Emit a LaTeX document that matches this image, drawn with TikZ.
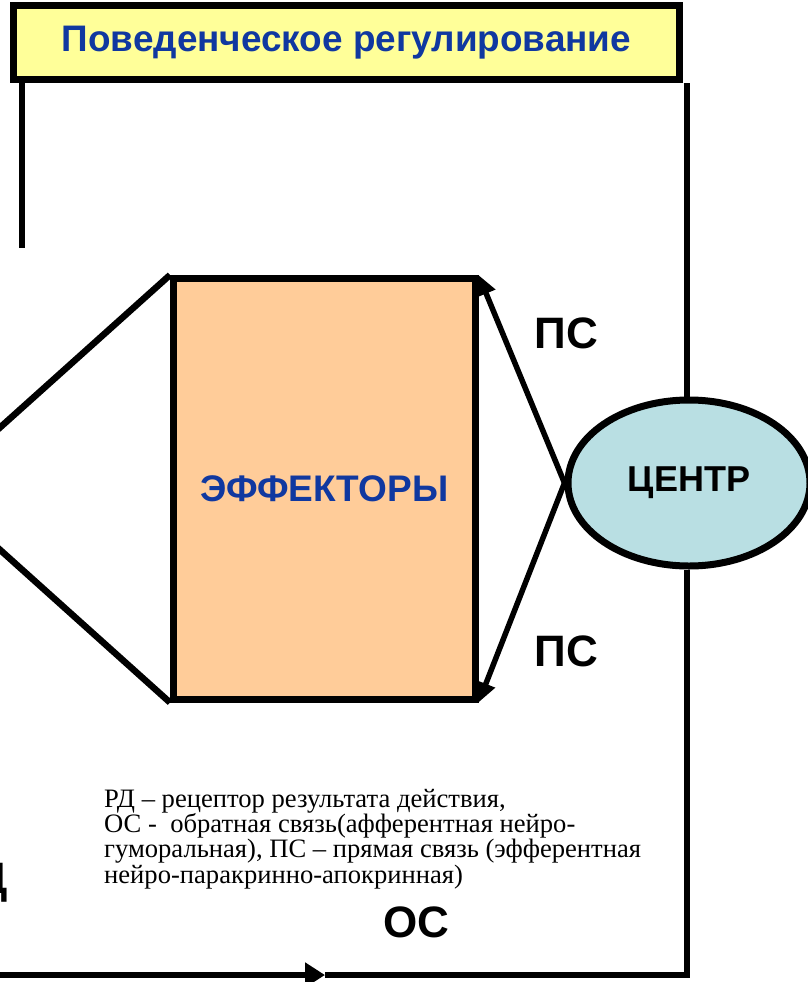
\documentclass[tikz,border=0pt]{standalone}
\usepackage{fontspec}
\setmainfont{Liberation Serif}
\newfontfamily\arialb[BoldFont=*]{Liberation Sans Bold}
\usetikzlibrary{shapes.geometric,arrows.meta}
\definecolor{titleblue}{RGB}{16,56,160}
\definecolor{bannerfill}{RGB}{255,255,153}
\definecolor{efffill}{RGB}{255,204,153}
\definecolor{centfill}{RGB}{185,223,227}
\tikzset{
  thick line/.style={line width=6.5pt},
  bigtxt/.style={inner sep=0pt, font=\arialb\fontsize{44}{44}\selectfont},
  psarrow/.style={line width=5.5pt, -{Triangle[length=20pt,width=19pt]}},
}
\begin{document}
\begin{tikzpicture}[x=1pt,y=-1pt]
\useasboundingbox[fill=white] (0,0) rectangle (808,982);
% banner
\node[draw, line width=7pt, fill=bannerfill, minimum width=666pt, minimum height=74pt, inner sep=0pt,
      text=titleblue, font=\arialb\fontsize{36.9}{37}\selectfont] (banner) at (346.5,42.5) {Поведенческое регулирование};
% effectors
\node[draw, line width=7pt, fill=efffill, minimum width=301.5pt, minimum height=420.5pt, inner sep=0pt,
      text=titleblue, font=\arialb\fontsize{37}{37}\selectfont] (eff) at (324.25,488.75) {ЭФФЕКТОРЫ};
% centre
\node[ellipse, draw, line width=7pt, fill=centfill, minimum width=242pt, minimum height=166pt, inner sep=0pt,
      font=\arialb\fontsize{36}{36}\selectfont] (cent) at (689,483) {ЦЕНТР};
% labels
\node[bigtxt] (ps1) at (566.5,333.5) {ПС};
\node[bigtxt] (ps2) at (566.5,651) {ПС};
\node[bigtxt] (os) at (416,922) {ОС};
\node[bigtxt, anchor=base east] (rd) at (8.5,893) {РД};
% free ends
\coordinate (lt) at (22,83);
\coordinate (lb) at (22,248);
\coordinate (rt) at (687,83);
\coordinate (up) at (-12,438.3);
\coordinate (lo) at (-12,539);
\coordinate (bl) at (-12,975);
\coordinate (mid) at (325,975);
\coordinate (br) at (687,975);
% lines
\draw[thick line] (lt) -- (lb);
\draw[thick line] (rt) -- (rt |- cent.north);
\draw[thick line, line join=round] (eff.north west) -- (up);
\draw[thick line, line join=round] (eff.south west) -- (lo);
\draw[psarrow] (cent.west) -- (eff.north east);
\draw[psarrow] (cent.west) -- (eff.south east);
\draw[thick line, -{Triangle[length=20pt,width=24pt]}] (bl) -- (mid);
\draw[thick line, line join=miter] (mid) -- (br) -- (br |- cent.south);
% legend
\node[anchor=base west, inner sep=0pt] (legend) at (104,807) {\parbox[t]{680pt}{\raggedright\fontsize{26.6}{21.7}\selectfont
РД – рецептор результата действия,\\
ОС -\ \ обратная связь(афферентная нейро-\\
гуморальная), ПС – прямая связь (эфферентная\\
нейро-паракринно-апокринная)}};
\end{tikzpicture}
\end{document}
